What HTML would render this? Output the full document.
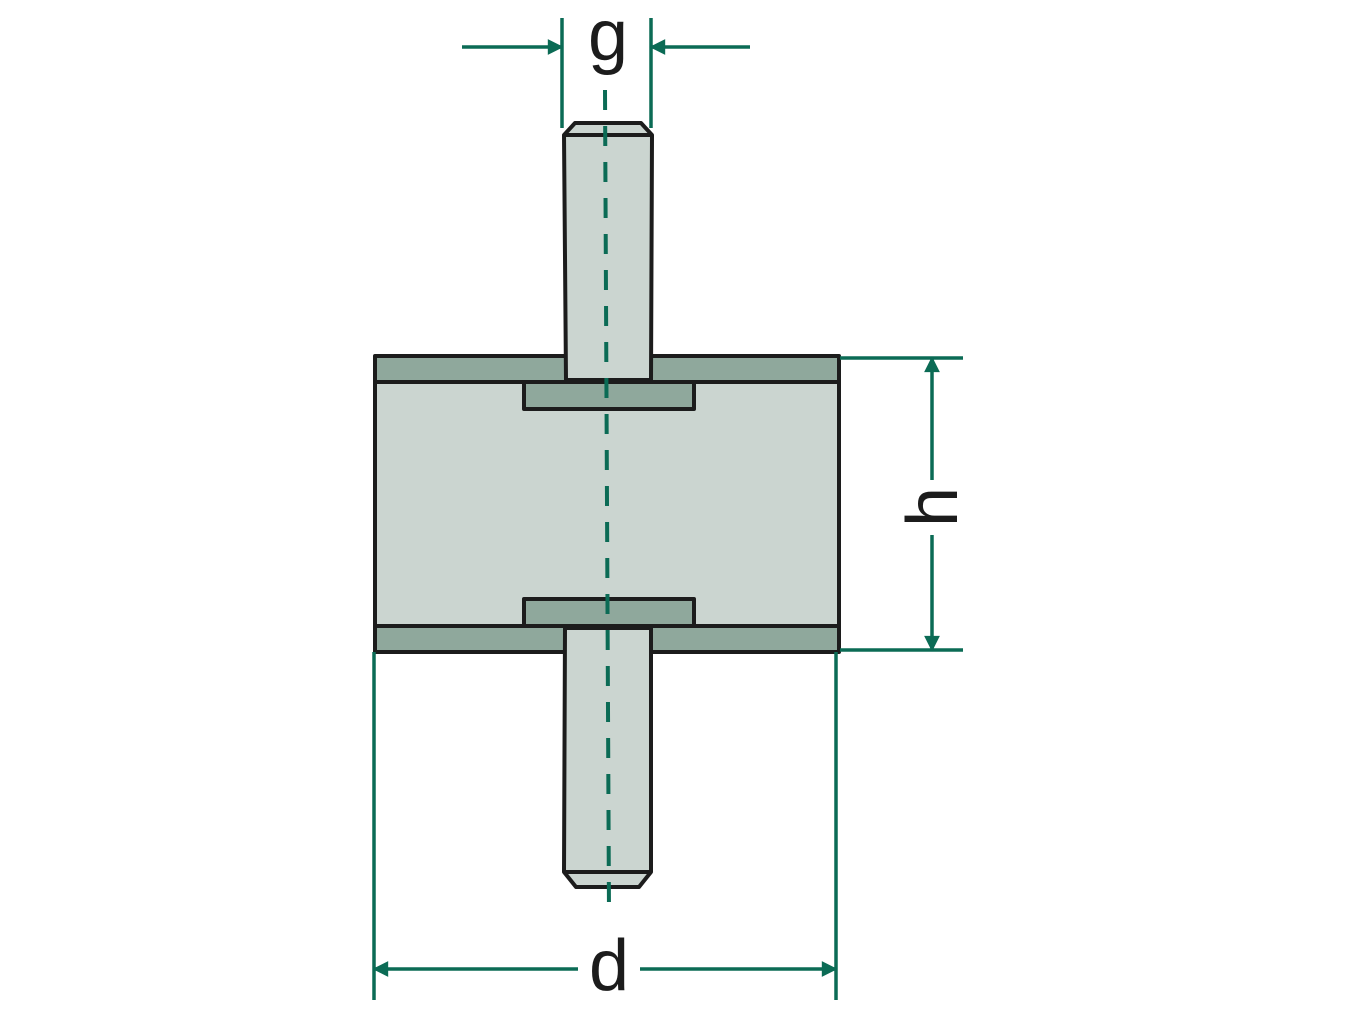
<!DOCTYPE html>
<html><head><meta charset="utf-8"><style>
html,body{margin:0;padding:0;background:#fff;}
svg{display:block;}
</style></head><body>
<svg width="1345" height="1009" viewBox="0 0 1345 1009" xmlns="http://www.w3.org/2000/svg">
<defs>
<marker id="ah" viewBox="0 0 10 10" refX="9" refY="5" markerWidth="6" markerHeight="4.5" orient="auto-start-reverse" markerUnits="strokeWidth">
<path d="M0,0 L10,5 L0,10 z" fill="#0b6b55"/>
</marker>
</defs>
<g stroke="#1c1c1c" stroke-width="4" stroke-linejoin="round">
<rect x="375" y="382" width="464" height="244" fill="#cbd5d0"/>
<rect x="375" y="356" width="464" height="26" fill="#8fa89c"/>
<rect x="375" y="626" width="464" height="26" fill="#8fa89c"/>
<rect x="524" y="382" width="170" height="27" fill="#8fa89c"/>
<rect x="524" y="599" width="170" height="27" fill="#8fa89c"/>
<path d="M566,380 L564,135 L575,123 L641,123 L652,135 L651,380 Z" fill="#cbd5d0"/>
<line x1="564" y1="135" x2="652" y2="135"/>
<path d="M565,628 L564,872 L576,887 L639,887 L651,872 L651,628 Z" fill="#cbd5d0"/>
<line x1="564" y1="872" x2="651" y2="872"/>
</g>
<g stroke="#0b6b55" fill="none">
<line x1="605" y1="90" x2="609" y2="916" stroke-width="4" stroke-dasharray="20 16"/>
<g stroke-width="3.5">
<line x1="562" y1="18" x2="562" y2="128"/>
<line x1="651" y1="18" x2="651" y2="128"/>
<line x1="462" y1="47" x2="562" y2="47" marker-end="url(#ah)"/>
<line x1="750" y1="47" x2="651" y2="47" marker-end="url(#ah)"/>
<line x1="840" y1="358" x2="963" y2="358"/>
<line x1="840" y1="650" x2="963" y2="650"/>
<line x1="932" y1="480" x2="932" y2="358" marker-end="url(#ah)"/>
<line x1="932" y1="535" x2="932" y2="650" marker-end="url(#ah)"/>
<line x1="374" y1="652" x2="374" y2="1000"/>
<line x1="836" y1="652" x2="836" y2="1000"/>
<line x1="578" y1="969" x2="374" y2="969" marker-end="url(#ah)"/>
<line x1="640" y1="969" x2="836" y2="969" marker-end="url(#ah)"/>
</g>
</g>
<g font-family="'Liberation Sans', sans-serif" font-size="72" fill="#1c1c1c" text-anchor="middle">
<text x="608" y="60">g</text>
<text x="609" y="990">d</text>
<text x="0" y="0" transform="translate(957,507) rotate(-90)">h</text>
</g>
</svg>
</body></html>
